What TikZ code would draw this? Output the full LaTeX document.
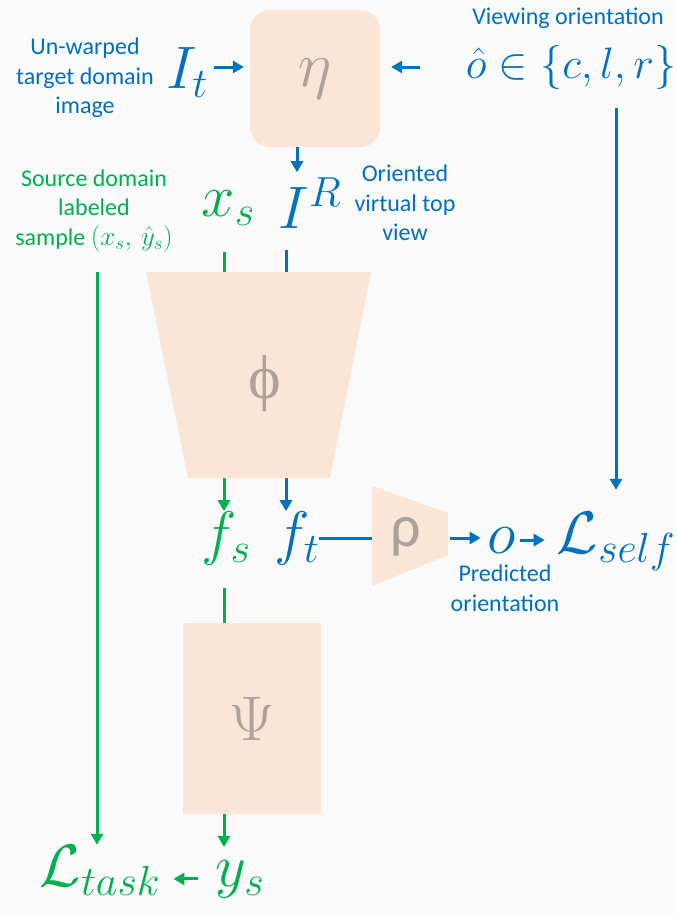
\RequirePackage{fix-cm}
\documentclass[tikz,border=0pt]{standalone}
\usepackage{fontspec}
\setmainfont{Carlito}
\newfontfamily\greekserif{Liberation Serif}
\usetikzlibrary{positioning,calc,arrows.meta}
\definecolor{nnblue}{HTML}{0070C0}
\definecolor{nngreen}{HTML}{00B050}
\definecolor{nnpeach}{HTML}{FBE5D6}
\definecolor{nngray}{HTML}{ADA19A}
\definecolor{nnback}{HTML}{FAFAFA}

\begin{document}
\begin{tikzpicture}[x=1pt,y=-1pt,
  lbl/.style={align=center, font=\fontsize{24}{29.5}\selectfont, inner sep=0pt},
  bigmath/.style={font=\fontsize{60}{60}\selectfont, inner sep=0pt, anchor=base},
  netbox/.style={fill=nnpeach, draw=none, text=nngray, inner sep=0pt},
  netname/.style={text=nngray, inner sep=0pt},
  bline/.style={draw=nnblue, line width=3pt},
  barr/.style={bline, -{Triangle[length=11pt,width=12pt]}},
  garr/.style={draw=nngreen, line width=3pt, -{Triangle[length=11pt,width=12pt]}}]

\useasboundingbox (0,0) rectangle (677,914);
\fill[nnback] (0,0) rectangle (677,914);

\node[netbox, minimum width=130pt, minimum height=137pt, rounded corners=20pt,
      font=\fontsize{64}{64}\selectfont] (eta) at (315,78.5) {$\eta$};

\node[lbl, text=nnblue] (unwarped) at (85,78) {Un-warped\\target domain\\image};
\node[bigmath, text=nnblue] (It) at (187,88) {$I_t$};
\node[lbl, text=nnblue] (viewing) at (568,18) {Viewing orientation};
\node[font=\fontsize{44}{44}\selectfont, text=nnblue, inner sep=0pt, anchor=base]
     (ohat) at (571,78) {$\hat{o}\in\{c,l,r\}$};

\node[lbl, text=nngreen] (source) at (94,211) {Source domain\\labeled\\sample {\fontsize{27}{29.5}\selectfont$(x_s,\,\hat{y}_s)$}};
\node[bigmath, text=nngreen] (xs) at (228,216) {$x_s$};
\node[bigmath, text=nnblue] (IR) at (310,228) {$I^R$};
\node[lbl, text=nnblue] (oriented) at (405,203) {Oriented\\virtual top\\view};

\node[bigmath, text=nngreen] (fs) at (226,553) {$f_s$};
\node[bigmath, text=nnblue] (ft) at (297,553) {$f_t$};
\node[bigmath, text=nnblue] (o) at (502,553) {$o$};
\node[bigmath, text=nnblue] (Lself) at (616,553) {$\mathcal{L}_{self}$};
\node[lbl, text=nnblue] (predicted) at (505,588) {Predicted\\orientation};

\node[bigmath, text=nngreen] (ys) at (240,886) {$y_s$};
\node[bigmath, text=nngreen] (Ltask) at (100,886) {$\mathcal{L}_{task}$};

\coordinate (rhoin) at (372,540);
\coordinate (rhoout) at (450,538);

\draw[barr, shorten <=6pt, shorten >=6pt] ([yshift=5pt]It.east) -- ([yshift=5pt]It.east -| eta.west);
\draw[barr, shorten <=46pt, shorten >=11pt] (ohat.west) -- (ohat.west -| eta.east);
\draw[barr] ([xshift=-18pt]eta.south) -- ++(0,25);
\draw[barr, shorten <=19pt, shorten >=22pt] (ohat.south -| Lself.north) -- (Lself.north);

\draw[garr, shorten <=27pt] ([xshift=-4pt]xs.south) -- ([xshift=-4pt]xs.south |- fs.north);
\draw[barr, shorten <=22pt] ([xshift=-11pt]IR.south -| ft.north) -- ([xshift=-11pt]ft.north);
\draw[garr, shorten <=23pt, shorten >=13pt] ([xshift=-2pt]fs.south) -- ([xshift=-2pt]fs.south |- ys.north);
\draw[garr, shorten <=20pt] ([xshift=-3pt]source.south -| Ltask.north) -- ([xshift=-3pt]Ltask.north);

\draw[bline] (ft.east) -- (ft.east -| rhoin);
\draw[barr, shorten >=7pt] (rhoout) -- (rhoout -| o.west);
\draw[barr, shorten <=4pt, shorten >=12pt] (o.east) -- (o.east -| Lself.west);
\draw[garr, shorten <=18pt, shorten >=13pt] (ys.west) -- (ys.west -| Ltask.east);

\fill[nnpeach] (rhoin |- 0,486) -- (448,513) -- (448,555) -- (rhoin |- 0,586) -- cycle;
\node[netname, font=\fontsize{60}{60}\selectfont] (rho) at (406,537) {ρ};

\fill[nnpeach] (146,272) -- (371,272) -- (330,478) -- (188,478) -- cycle;
\node[netname, font=\fontsize{62}{62}\greekserif] (phi) at (265,384) {ϕ};

\node[netbox, minimum width=138pt, minimum height=191pt,
      font=\fontsize{63}{63}\selectfont] (psi) at (252,718.5) {$\Psi$};

\end{tikzpicture}
\end{document}
